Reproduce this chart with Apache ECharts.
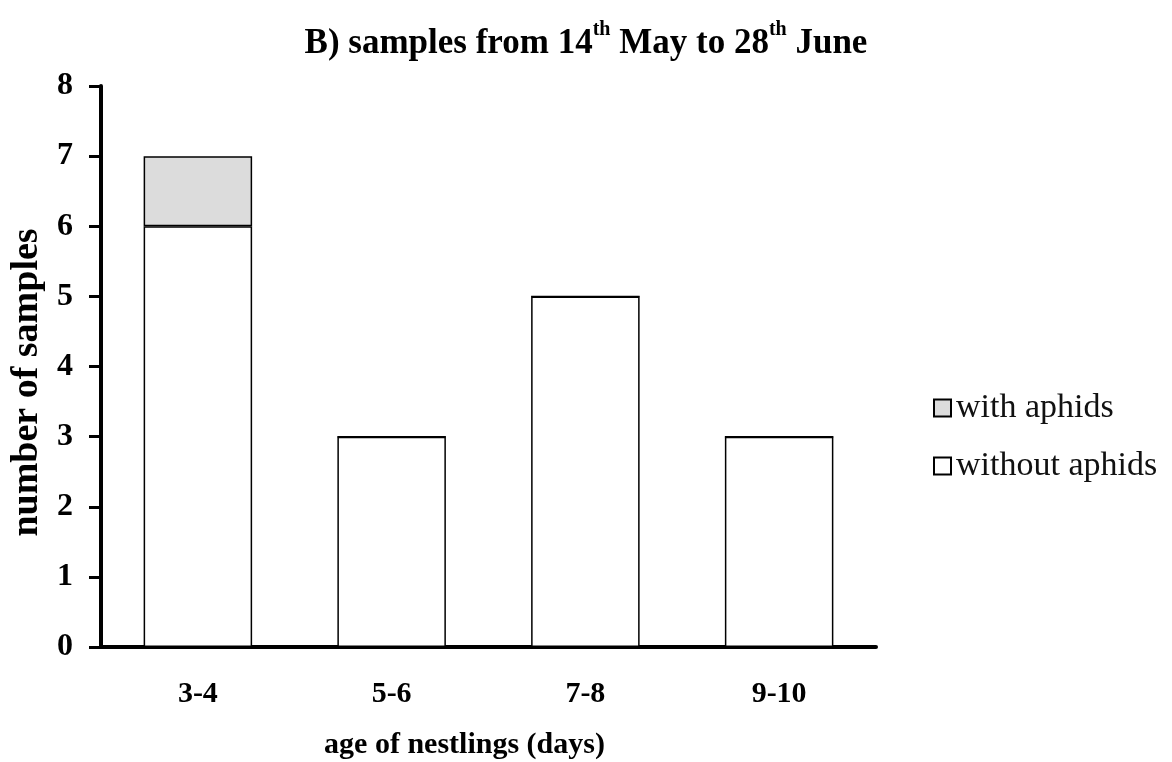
<!DOCTYPE html>
<html>
<head>
<meta charset="utf-8">
<script src="https://cdn.jsdelivr.net/npm/echarts@6/dist/echarts.min.js"></script>
<style>html,body{margin:0;padding:0;background:#fff}#c{width:1172px;height:762px}</style>
</head>
<body>
<div id="c"></div>
<script>
const categories = ['3-4', '5-6', '7-8', '9-10'];
const withoutAphids = [6, 3, 5, 3];
const withAphids = [1, 0, 0, 0];
const yTicks = [0, 1, 2, 3, 4, 5, 6, 7, 8];

const serif = '"Liberation Serif", "DejaVu Serif", serif';
const chart = echarts.init(document.getElementById('c'));
chart.setOption({
  animation: false,
  backgroundColor: '#fff',
  title: {
    text: '{b|B) samples from 14}{s|th}{b| May to 28}{s|th}{b| June}',
    left: 'center',
    top: 6,
    textStyle: {
      rich: {
        b: { fontFamily: serif, fontWeight: 'bold', fontSize: 35, color: '#000', verticalAlign: 'bottom', height: 38 },
        s: { fontFamily: serif, fontWeight: 'bold', fontSize: 20, color: '#000', verticalAlign: 'top', height: 38, padding: [0, 0, 14, 0] }
      }
    }
  },
  legend: {
    orient: 'vertical',
    left: 928,
    top: 386,
    itemGap: 24,
    itemWidth: 17,
    itemHeight: 17,
    icon: 'rect',
    data: ['with aphids', 'without aphids'],
    textStyle: { fontFamily: serif, fontSize: 34, color: '#111' }
  },
  grid: { left: 101, right: 296, top: 86, bottom: 115, containLabel: false, outerBoundsMode: 'none' },
  xAxis: {
    type: 'category',
    data: categories,
    name: 'age of nestlings (days)',
    nameLocation: 'middle',
    nameGap: 83,
    nameTextStyle: { fontFamily: serif, fontWeight: 'bold', fontSize: 30, color: '#000', padding: [0, 48, 0, 0] },
    axisLine: { lineStyle: { color: '#000', width: 4 } },
    axisTick: { show: false },
    axisLabel: { fontFamily: serif, fontWeight: 'bold', fontSize: 30, color: '#000', margin: 32 }
  },
  yAxis: {
    type: 'value',
    min: yTicks[0],
    max: yTicks[yTicks.length - 1],
    interval: 1,
    name: 'number of samples',
    nameLocation: 'middle',
    nameGap: 50,
    nameTextStyle: { fontFamily: serif, fontWeight: 'bold', fontSize: 38, color: '#000', padding: [0, 32, 0, 0] },
    axisLine: { show: true, lineStyle: { color: '#000', width: 4 } },
    axisTick: { show: true, length: 12, lineStyle: { color: '#000', width: 3 } },
    axisLabel: { fontFamily: serif, fontWeight: 'bold', fontSize: 32, color: '#000', margin: 28, padding: [12, 0, 0, 0] },
    splitLine: { show: false }
  },
  series: [
    {
      name: 'without aphids',
      type: 'bar',
      stack: 'total',
      data: withoutAphids,
      barWidth: '56%',
      itemStyle: { color: '#ffffff', borderColor: '#000', borderWidth: 1.5 }
    },
    {
      name: 'with aphids',
      type: 'bar',
      stack: 'total',
      data: withAphids,
      barWidth: '56%',
      itemStyle: { color: '#dcdcdc', borderColor: '#000', borderWidth: 1.5 }
    }
  ]
});
</script>
</body>
</html>
